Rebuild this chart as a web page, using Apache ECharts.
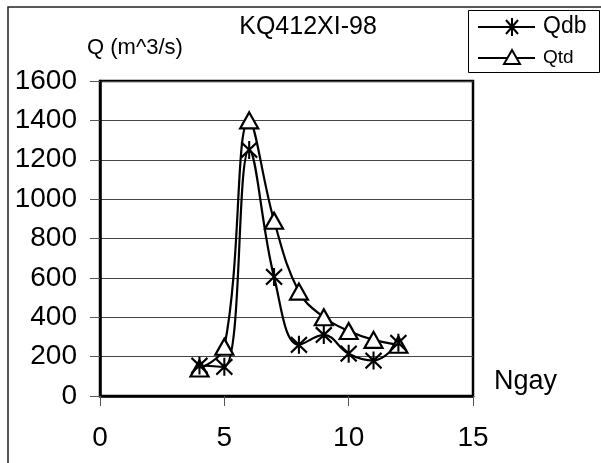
<!DOCTYPE html>
<html>
<head>
<meta charset="utf-8">
<script src="https://cdn.jsdelivr.net/npm/echarts@6/dist/echarts.min.js"></script>
<style>
  html, body { margin: 0; padding: 0; background: #fff; }
  #chart { width: 601px; height: 463px; }
</style>
</head>
<body>
<div id="chart"></div>
<script>
var days = [4, 5, 6, 7, 8, 9, 10, 11, 12];
var qdb = [155, 148, 1250, 605, 260, 310, 215, 180, 270];
var qtd = [140, 250, 1400, 890, 530, 400, 330, 285, 260];
var seriesNames = ['Qdb', 'Qtd'];
var chartTitle = 'KQ412XI-98';
var yName = 'Q (m^3/s)';
var xName = 'Ngay';

var font = '"Liberation Sans", Arial, sans-serif';
var starPath = 'path://M0,1L12,13M12,1L0,13M6,0L6,14';

function pairs(vals) {
  return days.map(function (d, i) { return [d, vals[i]]; });
}

var chart = echarts.init(document.getElementById('chart'));
var option = {
  animation: false,
  backgroundColor: '#fff',
  grid: {
    left: 100, right: 128, top: 81, bottom: 67,
    show: true, borderColor: '#000', borderWidth: 2.5
  },
  xAxis: {
    type: 'value', min: 0, max: 15, interval: 5,
    axisLine: { show: true, lineStyle: { color: '#000', width: 2.5 } },
    axisTick: { show: true, length: 10, lineStyle: { color: '#555' } },
    axisLabel: { margin: 28, fontSize: 28, color: '#000', fontFamily: font,
      formatter: function (v) { return String(v); } },
    splitLine: { show: false }
  },
  yAxis: {
    type: 'value', min: 0, max: 1600, interval: 200,
    axisLine: { show: true, lineStyle: { color: '#000', width: 2.5 } },
    axisTick: { show: true, length: 10, lineStyle: { color: '#555' } },
    axisLabel: { margin: 23, fontSize: 28, color: '#000', fontFamily: font,
      formatter: function (v) { return String(v); } },
    splitLine: { show: true, lineStyle: { color: '#444', width: 1 } }
  },
  series: [
    {
      name: seriesNames[1], type: 'line', smooth: 0.4,
      data: pairs(qtd),
      symbol: 'triangle', symbolSize: [18, 16],
      lineStyle: { color: '#000', width: 2.2 },
      itemStyle: { color: '#fff', borderColor: '#000', borderWidth: 2.2 }
    },
    {
      name: seriesNames[0], type: 'line', smooth: 0.4,
      data: pairs(qdb),
      symbol: starPath, symbolSize: [16, 18],
      lineStyle: { color: '#000', width: 2.2 },
      itemStyle: { color: '#000', borderColor: '#000', borderWidth: 2.2 }
    }
  ],
  graphic: [
    { type: 'rect', silent: true, z: -10,
      shape: { x: 8, y: 7, width: 700, height: 600 },
      style: { fill: 'none', stroke: '#222', lineWidth: 1.5 } },
    { type: 'text', x: 308, y: 27,
      style: { text: chartTitle, font: '25px ' + font, fill: '#000', align: 'center', verticalAlign: 'middle' } },
    { type: 'text', x: 87, y: 48,
      style: { text: yName, font: '22px ' + font, fill: '#000', align: 'left', verticalAlign: 'middle' } },
    { type: 'text', x: 494, y: 382,
      style: { text: xName, font: '27px ' + font, fill: '#000', align: 'left', verticalAlign: 'middle' } },
    { type: 'rect', shape: { x: 468.5, y: 10.5, width: 131, height: 62 },
      style: { fill: '#fff', stroke: '#000', lineWidth: 1 } },
    { type: 'line', shape: { x1: 478, y1: 27, x2: 535, y2: 27 },
      style: { stroke: '#000', lineWidth: 2 } },
    { type: 'polyline', shape: { points: [[506, 20], [518, 34]] }, style: { stroke: '#000', lineWidth: 2, fill: null } },
    { type: 'polyline', shape: { points: [[518, 20], [506, 34]] }, style: { stroke: '#000', lineWidth: 2, fill: null } },
    { type: 'polyline', shape: { points: [[512, 18], [512, 36]] }, style: { stroke: '#000', lineWidth: 2, fill: null } },
    { type: 'line', shape: { x1: 478, y1: 58, x2: 535, y2: 58 },
      style: { stroke: '#000', lineWidth: 2 } },
    { type: 'polygon', shape: { points: [[512, 50], [520, 64], [504, 64]] },
      style: { fill: '#fff', stroke: '#000', lineWidth: 2 } },
    { type: 'text', x: 543, y: 27,
      style: { text: seriesNames[0], font: '23px ' + font, fill: '#000', align: 'left', verticalAlign: 'middle' } },
    { type: 'text', x: 543, y: 58,
      style: { text: seriesNames[1], font: '19px ' + font, fill: '#000', align: 'left', verticalAlign: 'middle' } }
  ]
};
chart.setOption(option);
window.onresize = function () { chart.resize(); };
</script>
</body>
</html>
